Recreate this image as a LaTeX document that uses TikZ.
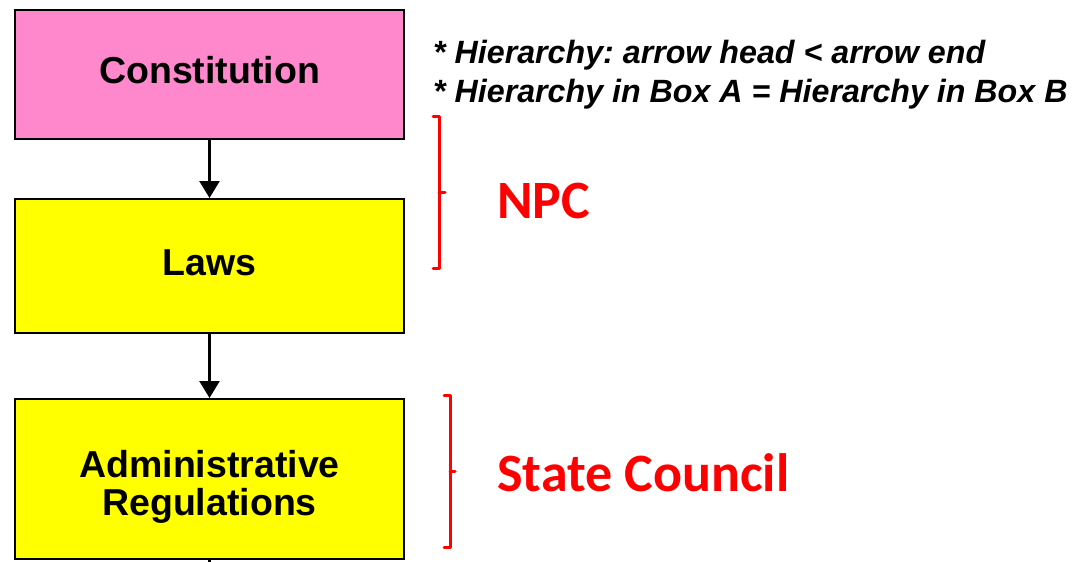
\documentclass[tikz,border=0pt]{standalone}
\usepackage{fontspec}
\setmainfont{Liberation Sans}
\newfontfamily\calfont{Carlito}
\usetikzlibrary{arrows.meta}
\definecolor{boxpink}{RGB}{255,136,204}
\definecolor{boxyellow}{RGB}{255,255,0}
\definecolor{bracketred}{RGB}{255,0,0}
\frenchspacing
\tikzset{
  box/.style={draw=black, line width=2pt, minimum width=389pt, inner sep=0pt,
    font=\fontsize{37.5}{38}\selectfont\bfseries, align=center},
  flow/.style={line width=2.6pt, -{Triangle[width=20pt,length=17pt]}},
  brk/.style={draw=bracketred, line width=3pt, line cap=round, line join=round},
  redlabel/.style={text=bracketred, font=\calfont\fontsize{54}{60}\selectfont\bfseries, anchor=west, inner sep=0pt},
  note/.style={font=\fontsize{32.2}{39}\selectfont\bfseries\itshape, anchor=base west, inner sep=0pt}
}
\begin{document}
\begin{tikzpicture}[x=1pt,y=-1pt]
\useasboundingbox (0,0) rectangle (1076,562);
\node[box, fill=boxpink, minimum height=129pt] (con) at (209.5,74.5) {\raisebox{-8.5pt}[0pt][0pt]{Constitution}};
\node[box, fill=boxyellow, minimum height=134pt] (laws) at (209.5,266) {\raisebox{-9pt}[0pt][0pt]{Laws}};
\node[box, fill=boxyellow, minimum height=160pt] (adm) at (209.5,479) {\raisebox{2pt}[0pt][0pt]{\begin{tabular}[t]{@{}c@{}}Administrative\\Regulations\end{tabular}}};
\draw[flow] (con) -- (laws);
\draw[flow] (laws) -- (adm);
\coordinate (stub) at (209.5,566);
\draw[line width=2.6pt] (adm.south) -- (stub);
% notes
\node[note] (n1) at (433,63) {* Hierarchy: arrow head < arrow end};
\node[note] (n2) at (433,102) {* Hierarchy in Box A = Hierarchy in Box B};
% NPC bracket
\draw[brk] (433,116) -- (439,116) -- (439,268) -- (433,268);
\draw[brk] (439,192) -- (445,192);
\node[redlabel] (npc) at (497,201) {NPC};
% State council bracket
\draw[brk] (444,395) -- (450,395) -- (450,547) -- (444,547);
\draw[brk] (450,471) -- (455,471);
\node[redlabel] (sc) at (497,473) {State Council};
\end{tikzpicture}
\end{document}
